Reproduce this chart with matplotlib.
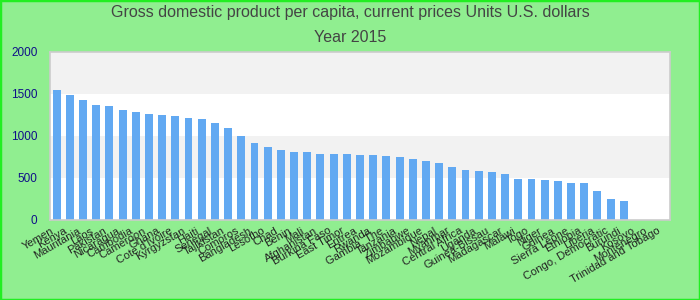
import numpy as np
import matplotlib
matplotlib.use('Agg')
import matplotlib.pyplot as plt
import matplotlib.transforms as mtransforms
from matplotlib.patches import Rectangle

# GDP per capita 2015 (USD)
countries = ['Yemen', 'Kenya', 'Mauritania', 'Laos', 'Pakistan', 'Nicaragua', 'Cambodia',
             'Cameroon', 'Ghana', "Cote d'Ivoire", 'Kyrgyzstan', 'Haiti', 'Senegal',
             'Tajikistan', 'Comoros', 'Bangladesh', 'Lesotho', 'Chad', 'Benin', 'Mali',
             'Afghanistan', 'Burkina Faso', 'East Timor', 'Eritrea', 'Rwanda', 'Gambia, The',
             'Tanzania', 'Zimbabwe', 'Mozambique', 'Nepal', 'Myanmar', 'Central Africa',
             'Uganda', 'Guinea-Bissau', 'Madagascar', 'Malawi', 'Togo', 'Niger', 'Guinea',
             'Sierra Leone', 'Ethiopia', 'Liberia', 'Congo, Democratic', 'Burundi',
             'Kosovo', 'Montenegro', 'Trinidad and Tobago']
gdp = [1544, 1485, 1426, 1366, 1354, 1307, 1283, 1259, 1247, 1235, 1212, 1200, 1152,
       1093, 998, 915, 867, 832, 808, 808, 784, 784, 784, 772, 772, 760,
       748, 725, 701, 677, 630, 594, 582, 570, 546, 487, 487, 475, 463,
       440, 440, 345, 250, 226, np.nan, np.nan, np.nan]
y_ticks = [0, 500, 1000, 1500, 2000]

title = 'Gross domestic product per capita, current prices Units U.S. dollars'
subtitle = 'Year 2015'

plt.rcParams['font.family'] = ['Liberation Sans Narrow', 'Liberation Sans', 'DejaVu Sans']

fig = plt.figure(figsize=(7, 3), dpi=100, facecolor='#90ee90')
ax = fig.add_axes([50 / 700, 80 / 300, 620 / 700, 168.3 / 300])

# alternating horizontal bands
for lo, hi in zip(y_ticks[:-1], y_ticks[1:]):
    shade = '#f2f2f2' if (lo // 500) % 2 == 1 else 'white'
    ax.axhspan(lo, hi, color=shade, zorder=0, lw=0)

x = np.arange(len(countries))
ax.bar(x, np.nan_to_num(gdp), width=0.6, color='#62a9f2', zorder=2)

ax.set_xlim(-0.5, len(countries) - 0.5)
ax.set_ylim(0, 2000)
ax.set_yticks(y_ticks)
ax.set_yticklabels([str(v) for v in y_ticks], color='#101088', fontsize=8.5,
                   family=['Liberation Sans', 'DejaVu Sans'])
ax.set_xticks(x)
ax.set_xticklabels(countries, rotation=30, ha='right', rotation_mode='anchor',
                   fontsize=8, color='#222222', family=['Liberation Sans', 'DejaVu Sans'])
ax.tick_params(axis='both', length=0, pad=9)
ax.tick_params(axis='x', pad=4)
shift = mtransforms.ScaledTranslation(-6 / 100, 0, fig.dpi_scale_trans)
for lbl in ax.get_xticklabels():
    lbl.set_transform(lbl.get_transform() + shift)
for s in ax.spines.values():
    s.set_color('#cccccc')
    s.set_linewidth(1.2)

fig.text(0.5, 1 - 13 / 300, title, ha='center', va='center', fontsize=11.5, color='#444444')
fig.text(0.5, 1 - 37 / 300, subtitle, ha='center', va='center', fontsize=11.5, color='#444444')

# bright green outer frame
fig.patches.append(Rectangle((0, 0), 1, 1, transform=fig.transFigure, fill=False,
                             edgecolor='#22ee22', linewidth=2.5))

fig.savefig('out.png', dpi=100, facecolor=fig.get_facecolor())
